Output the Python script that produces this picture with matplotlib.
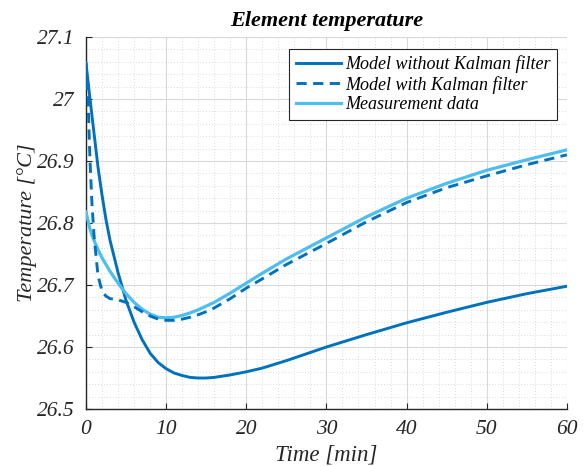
import matplotlib
matplotlib.use("Agg")
import matplotlib.pyplot as plt
from matplotlib.ticker import MultipleLocator, FuncFormatter

t_no_kf = [0, 0.5, 1, 1.5, 2, 2.5, 3, 4, 5, 6, 7, 8, 9, 10, 11, 12, 13, 14, 15, 16, 18, 20, 22, 25, 30, 35, 40, 45, 50, 55, 60]
temp_no_kf = [27.058, 27.0, 26.945, 26.89, 26.845, 26.805, 26.772, 26.72, 26.675, 26.64, 26.612, 26.59, 26.575, 26.565, 26.558, 26.554, 26.551, 26.550, 26.550, 26.551, 26.555, 26.560, 26.566, 26.578, 26.600, 26.620, 26.639, 26.656, 26.672, 26.686, 26.698]

t_kf = [0, 0.25, 0.5, 0.75, 1, 1.5, 2, 2.5, 3, 4, 5, 6, 7, 8, 9, 10, 11, 12, 13, 14, 15, 16, 18, 20, 22, 25, 30, 35, 40, 45, 50, 55, 60]
temp_kf = [27.058, 27.0, 26.9, 26.83, 26.78, 26.715, 26.69, 26.682, 26.678, 26.676, 26.672, 26.665, 26.657, 26.650, 26.645, 26.643, 26.643, 26.645, 26.648, 26.652, 26.657, 26.663, 26.678, 26.695, 26.71, 26.733, 26.767, 26.802, 26.833, 26.857, 26.876, 26.894, 26.91]

t_meas = [0, 0.5, 1, 1.5, 2, 3, 4, 5, 6, 7, 8, 9, 10, 11, 12, 13, 14, 15, 16, 18, 20, 22, 25, 30, 35, 40, 45, 50, 55, 60]
temp_meas = [26.818, 26.79, 26.772, 26.757, 26.744, 26.722, 26.703, 26.686, 26.672, 26.661, 26.653, 26.648, 26.647, 26.648, 26.651, 26.655, 26.66, 26.666, 26.672, 26.687, 26.703, 26.719, 26.742, 26.776, 26.81, 26.84, 26.864, 26.885, 26.902, 26.918]

labels = ["Model without Kalman filter", "Model with Kalman filter", "Measurement data"]

plt.rcParams["font.family"] = ["Liberation Serif", "DejaVu Serif"]

fig = plt.figure(figsize=(5.85, 4.66), dpi=100)
ax = fig.add_axes([0.147, 0.1223, 0.822, 0.7983])

dark = "#0072BD"; light = "#4DBEEE"
ax.plot(t_no_kf, temp_no_kf, color=dark, lw=2.1, label=labels[0], zorder=3)
ax.plot(t_kf, temp_kf, color=dark, lw=2.1, ls=(0, (3.5, 2.2)), label=labels[1], zorder=4)
ax.plot(t_meas, temp_meas, color=light, lw=2.3, label=labels[2], zorder=3)

ax.set_xlim(0, 60); ax.set_ylim(26.5, 27.1)
ax.xaxis.set_major_locator(MultipleLocator(10)); ax.xaxis.set_minor_locator(MultipleLocator(2))
ax.yaxis.set_major_locator(MultipleLocator(0.1)); ax.yaxis.set_minor_locator(MultipleLocator(0.02))
ax.yaxis.set_major_formatter(FuncFormatter(lambda v, p: f"{v:.1f}".rstrip("0").rstrip(".")))
ax.grid(which="major", color="#d9d9d9", lw=0.8)
ax.grid(which="minor", color="#cfcfcf", lw=0.6, ls=(0, (1, 2.5)))
ax.set_axisbelow(True)
for s in ("top", "right"): ax.spines[s].set_visible(False)
for s in ("left", "bottom"): ax.spines[s].set_color("#262626"); ax.spines[s].set_linewidth(1.0)
ax.tick_params(which="major", direction="in", length=4, color="#262626", labelsize=15.5, pad=8)
ax.tick_params(which="minor", length=0)
for lab in ax.get_xticklabels() + ax.get_yticklabels():
    lab.set_fontstyle("italic"); lab.set_color("#262626")

ax.set_xlabel("Time [min]", fontsize=16.5, style="italic", color="#262626", labelpad=4)
ax.set_ylabel("Temperature [°C]", fontsize=16, style="italic", color="#262626", labelpad=0.5)
ax.set_title("Element temperature", fontsize=16, style="italic", weight="bold", pad=8)

leg = ax.legend(loc="upper right", bbox_to_anchor=(0.98, 0.968), borderaxespad=0, fancybox=False, framealpha=1,
                edgecolor="#262626", handlelength=2.5, handletextpad=0.25, borderpad=0.35, labelspacing=0.15,
                prop={"style": "italic", "size": 13})
leg.get_frame().set_linewidth(0.8)

fig.savefig("out.png", dpi=100)
